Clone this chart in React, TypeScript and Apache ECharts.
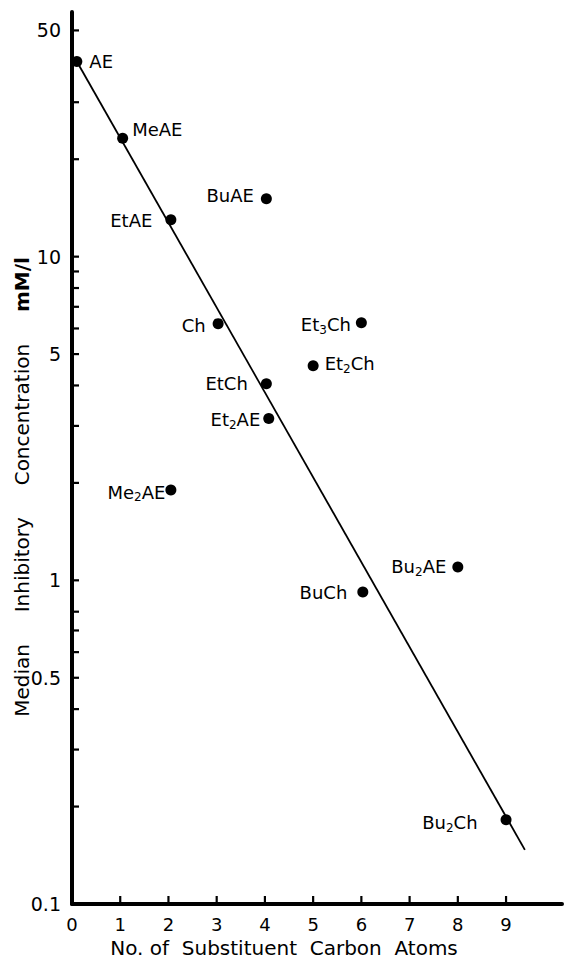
import React, { useEffect, useRef } from "react";
import * as echarts from "echarts";

// ---- data ----
const names = ["AE", "MeAE", "EtAE", "BuAE", "Ch", "Et3Ch", "Et2Ch", "EtCh", "Et2AE", "Me2AE", "Bu2AE", "BuCh", "Bu2Ch"];
const carbonAtoms = [0.1, 1.05, 2.05, 4.03, 3.03, 6.0, 5.0, 4.03, 4.08, 2.05, 8.0, 6.03, 9.0];
const concentration = [40.1, 23.2, 13.0, 15.1, 6.21, 6.25, 4.6, 4.05, 3.16, 1.9, 1.1, 0.921, 0.182];

const fitLineX = [0.1, 9.39];
const fitLineY = [40.1, 0.147];

const xTickValues = [1, 2, 3, 4, 5, 6, 7, 8, 9];
const xTickLabels = ["0", "1", "2", "3", "4", "5", "6", "7", "8", "9"];
const yTickValues = [0.2, 0.3, 0.4, 0.5, 0.6, 0.7, 0.8, 1, 2, 3, 4, 5, 6, 7, 8, 9, 10, 20, 30, 50];
const yLabelValues = [50, 10, 5, 1, 0.5, 0.1];
const yLabelTexts = ["50", "10", "5", "1", "0.5", "0.1"];

const xTitle = "No. of  Substituent  Carbon  Atoms";
const yTitleWords = ["Median", "Inhibitory", "Concentration"];
const yTitleUnit = "mM/l";

// ---- layout (not data) ----
const FONT = "DejaVu Sans";
const labelLayout: Record<string, [string, number, number]> = {
  AE: ["right", 7, 0],
  MeAE: ["right", 4, -9],
  EtAE: ["left", 13, 1],
  BuAE: ["left", 7, -3],
  Ch: ["left", 7, 2],
  Et3Ch: ["left", 5, 2],
  Et2Ch: ["right", 6, -2],
  EtCh: ["left", 13, 0],
  Et2AE: ["left", 3, 1],
  Me2AE: ["left", 0, 2],
  Bu2AE: ["left", 6, 0],
  BuCh: ["left", 10, 1],
  Bu2Ch: ["left", 23, 3],
};

const toRich = (s: string) => s.replace(/(\d)/g, "{s|$1}");

export default function App() {
  const ref = useRef<HTMLDivElement>(null);

  useEffect(() => {
    if (!ref.current) return;
    const chart = echarts.init(ref.current, null, { renderer: "svg" });

    const scatterData = names.map((n, i) => {
      const [side, dist, dy] = labelLayout[n];
      return {
        name: n,
        value: [carbonAtoms[i], concentration[i]],
        label: { position: side, distance: dist, offset: [0, dy] },
      };
    });

    const gap = "     ";

    const option: any = {
      animation: false,
      backgroundColor: "#fff",
      grid: { left: 72, right: 2, top: 12, bottom: 57, containLabel: false },
      xAxis: {
        type: "value",
        min: 0,
        max: 10.16,
        interval: 1,
        splitLine: { show: false },
        axisLine: { show: true, lineStyle: { color: "#000", width: 4 } },
        axisTick: { show: false },
        axisLabel: {
          show: true,
          margin: 11,
          color: "#000",
          fontSize: 18,
          fontFamily: FONT,
          formatter: (v: number) => (v <= 9 ? xTickLabels[Math.round(v)] : ""),
        },
      },
      yAxis: {
        type: "log",
        logBase: 10,
        min: 0.1,
        max: 57,
        splitLine: { show: false },
        axisLine: { show: true, lineStyle: { color: "#000", width: 4 } },
        axisTick: { show: false },
        axisLabel: { show: false },
      },
      graphic: [
        {
          type: "text",
          x: 284,
          y: 948,
          style: {
            text: xTitle,
            fontSize: 20,
            fontFamily: FONT,
            fill: "#000",
            align: "center",
            verticalAlign: "middle",
          },
        },
        {
          type: "text",
          x: 22,
          y: 487,
          rotation: Math.PI / 2,
          style: {
            text: yTitleWords.join(gap) + gap + "{b|" + yTitleUnit + "}",
            fontSize: 20,
            fontFamily: FONT,
            fill: "#000",
            align: "center",
            verticalAlign: "middle",
            rich: { b: { fontSize: 20, fontFamily: FONT, fontWeight: "bold", fill: "#000" } },
          },
        },
      ],
      series: [
        {
          type: "line",
          data: fitLineX.map((x, i) => [x, fitLineY[i]]),
          symbol: "none",
          lineStyle: { color: "#000", width: 1.8 },
          z: 2,
        },
        {
          type: "scatter",
          data: scatterData,
          symbol: "circle",
          symbolSize: 11,
          itemStyle: { color: "#000", opacity: 1 },
          z: 3,
          label: {
            show: true,
            color: "#000",
            opacity: 1,
            fontSize: 18,
            fontFamily: FONT,
            formatter: (p: any) => toRich(p.name),
            rich: {
              s: { fontSize: 12, fontFamily: FONT, color: "#000", padding: [10, 0, 0, 0] },
            },
          },
        },
        {
          type: "custom",
          clip: false,
          data: yTickValues.map((v) => [0, v]),
          renderItem: (params: any, api: any) => {
            const p = api.coord([0, api.value(1)]);
            return {
              type: "line",
              shape: { x1: p[0], y1: p[1], x2: p[0] + 7, y2: p[1] },
              style: { stroke: "#000", lineWidth: 2.2 },
            };
          },
          z: 4,
        },
        {
          type: "custom",
          clip: false,
          data: xTickValues.map((v) => [v, 0.1]),
          renderItem: (params: any, api: any) => {
            const p = api.coord([api.value(0), 0.1]);
            return {
              type: "line",
              shape: { x1: p[0], y1: p[1], x2: p[0], y2: p[1] - 8 },
              style: { stroke: "#000", lineWidth: 2.2 },
            };
          },
          z: 4,
        },
        {
          type: "custom",
          clip: false,
          data: yLabelValues.map((v, i) => [0, v, i]),
          renderItem: (params: any, api: any) => {
            const p = api.coord([0, api.value(1)]);
            const idx = api.value(2);
            return {
              type: "text",
              x: p[0] - 11,
              y: p[1],
              style: {
                text: yLabelTexts[idx],
                fontSize: 19,
                fontFamily: FONT,
                fill: "#000",
                align: "right",
                verticalAlign: "middle",
              },
            };
          },
          z: 4,
        },
      ],
    };

    chart.setOption(option);
    return () => chart.dispose();
  }, []);

  return (
    <div
      ref={ref}
      style={{ position: "fixed", left: 0, top: 0, width: 565, height: 961, background: "#fff" }}
    />
  );
}
